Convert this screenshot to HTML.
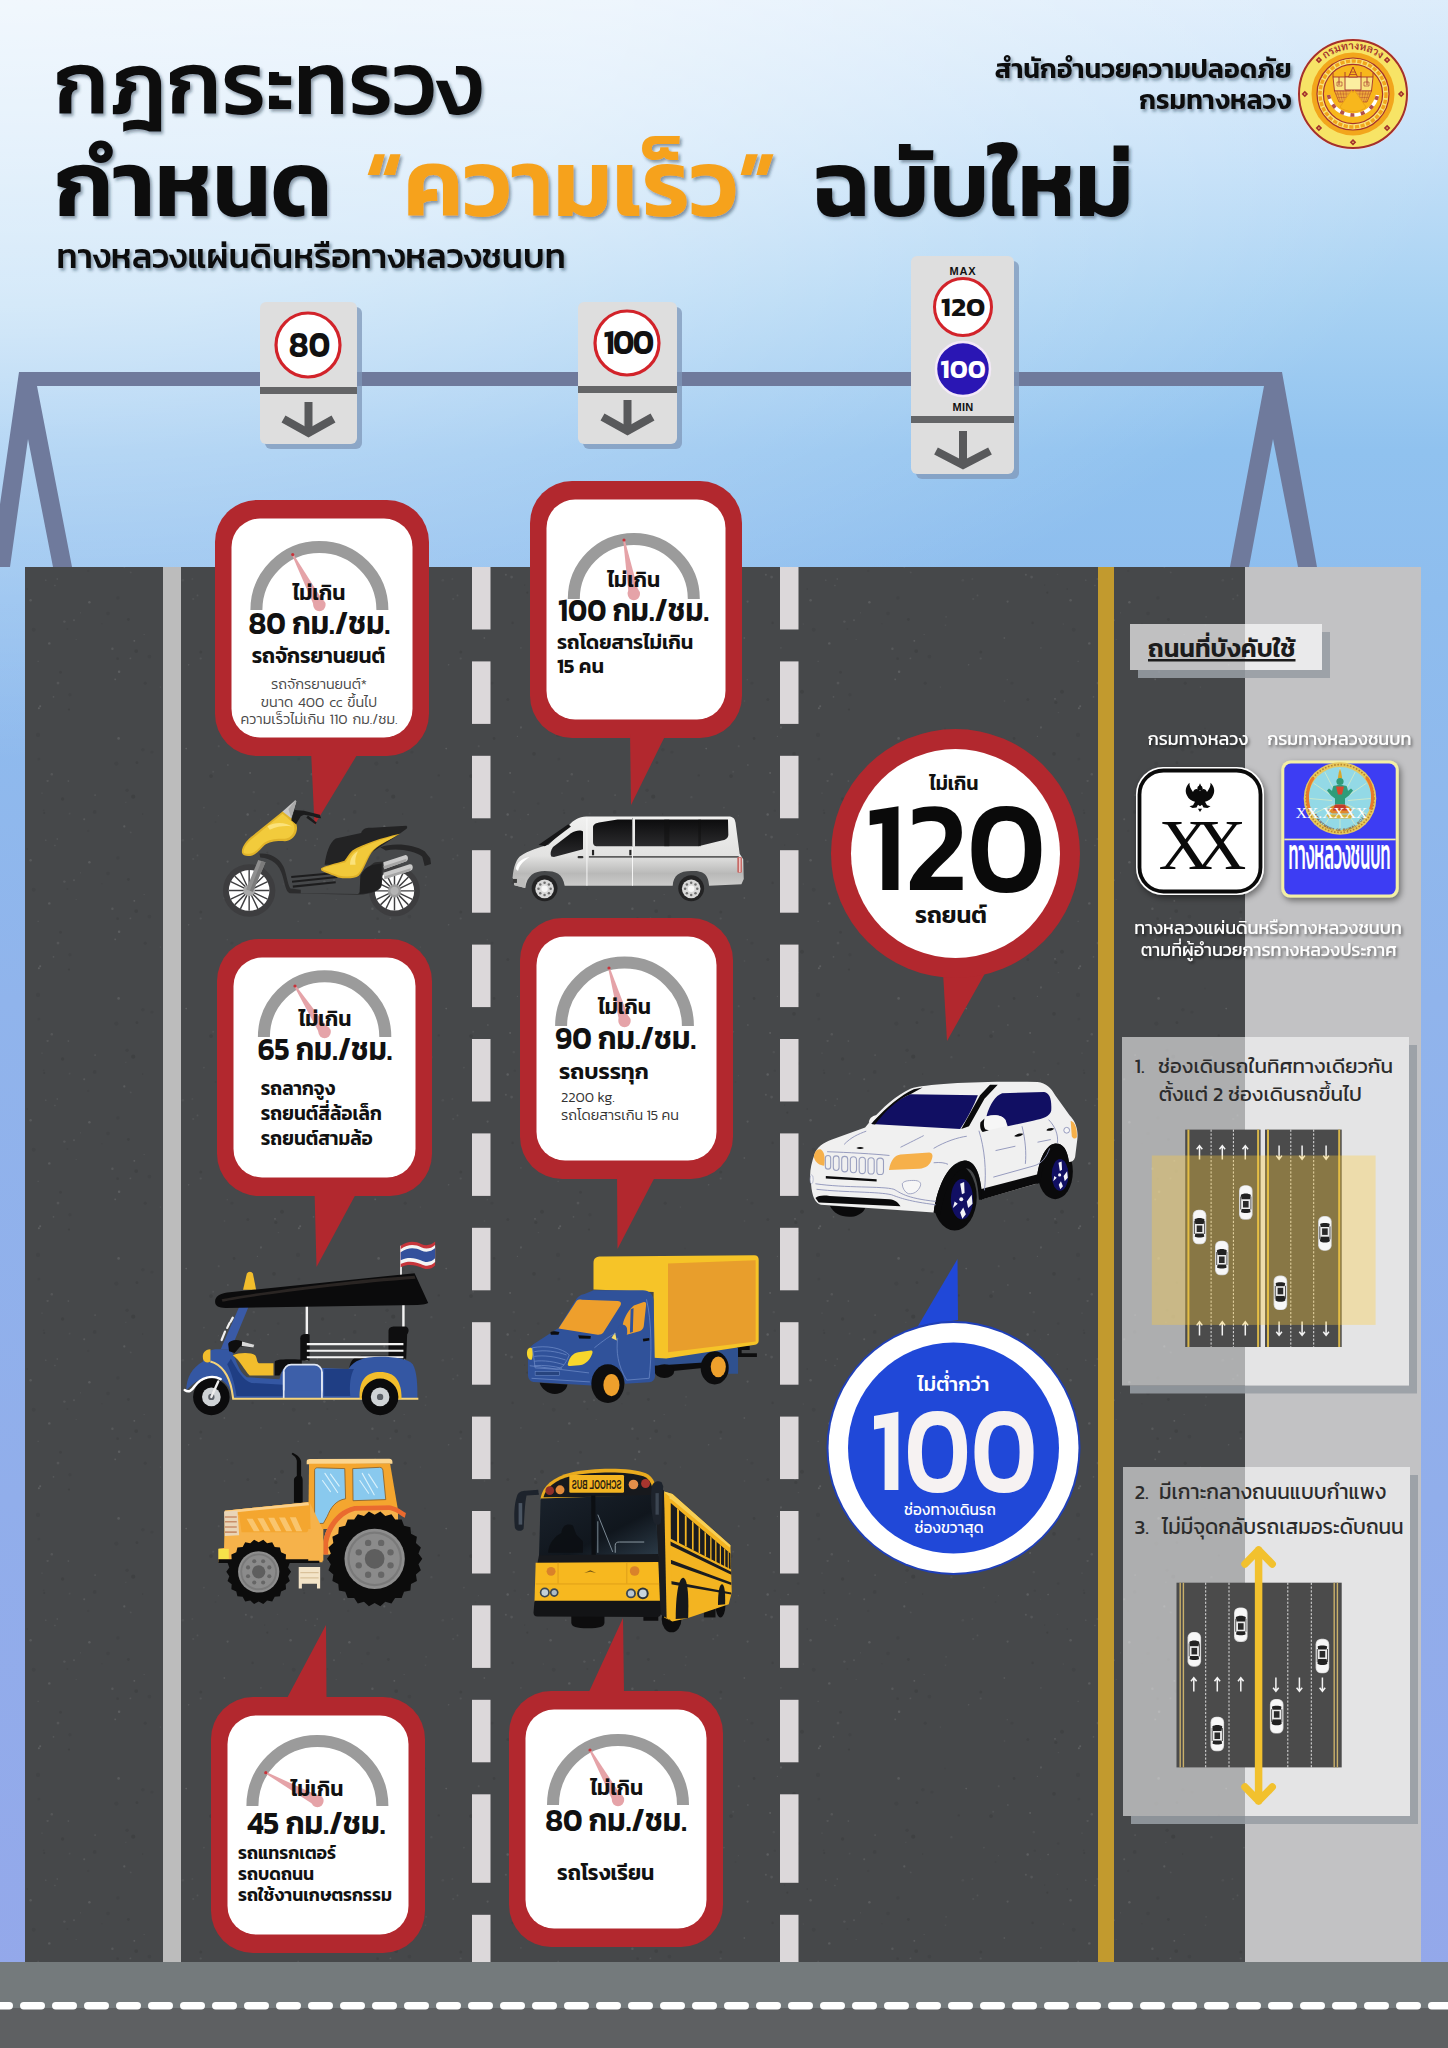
<!DOCTYPE html>
<html lang="th"><head><meta charset="utf-8"><title>กฎกระทรวงกำหนดความเร็วฉบับใหม่</title>
<style>
html,body{margin:0;padding:0;background:#94a7ea}
#page{width:1448px;height:2048px;overflow:hidden;position:relative;font-family:'Kanit','Prompt','Noto Sans Thai','Liberation Sans',sans-serif;
background:
 radial-gradient(ellipse 1500px 760px at 0% 0%, rgba(255,255,255,.60) 0%, rgba(255,255,255,.52) 40%, rgba(255,255,255,.24) 70%, rgba(255,255,255,0) 100%),
 linear-gradient(to bottom,#dcecfb 0px,#c4e0f8 150px,#a8d2f3 300px,#90c2ef 450px,#8ebdee 600px,#90b4ec 1000px,#91aeeb 1500px,#94a7ea 2048px);}
svg#main{position:absolute;left:0;top:0;width:1448px;height:2048px;font-family:'Kanit','Prompt','Noto Sans Thai','Liberation Sans',sans-serif}
</style></head><body>
<div id="page">
<svg id="main" width="1448" height="2048" viewBox="0 0 1448 2048" role="img" aria-label="กฎกระทรวงกำหนดความเร็วฉบับใหม่">
<defs>
<filter id="ts" x="-5%" y="-20%" width="110%" height="150%"><feDropShadow dx="2" dy="2.5" stdDeviation="1.6" flood-color="#1b2a40" flood-opacity=".45"/></filter>
<filter id="ts2" x="-5%" y="-30%" width="110%" height="170%"><feDropShadow dx="1.5" dy="2" stdDeviation="1.5" flood-color="#000" flood-opacity=".55"/></filter>
<filter id="ss" x="-20%" y="-20%" width="150%" height="150%"><feDropShadow dx="2" dy="3" stdDeviation="3" flood-color="#000" flood-opacity=".45"/></filter>
</defs>
<g fill="#6f7a9c">
<rect x="20" y="372" width="1262" height="14"/>
<polygon points="19,372 37,372 37,386 72,567 53,567 28,439 10,567 -9,567"/>
<polygon points="1264,372 1282,372 1317,567 1298,567 1273,439 1249,567 1230,567 1264,386"/>
</g>
<rect x="265" y="307" width="97" height="142" rx="6" fill="#7f97b8" opacity=".75"/><rect x="260" y="302" width="97" height="142" rx="6" fill="#dedede"/><rect x="260" y="387" width="97" height="7" fill="#646567"/>
<path d="M308.5 402 V433" stroke="#58595b" stroke-width="8" fill="none"/><path d="M283.5 419 L308.5 433 L333.5 419" stroke="#58595b" stroke-width="8" fill="none" stroke-linejoin="miter"/>
<circle cx="308" cy="345" r="32" fill="#fff" stroke="#d2232a" stroke-width="3.2"/>
<text transform="translate(309.5 357.4) scale(1 1.1)" font-size="33" font-weight="600" fill="#111" text-anchor="middle" >80</text>
<rect x="583" y="307" width="99" height="142" rx="6" fill="#7f97b8" opacity=".75"/><rect x="578" y="302" width="99" height="142" rx="6" fill="#dedede"/><rect x="578" y="386" width="99" height="7" fill="#646567"/>
<path d="M627.5 400 V431" stroke="#58595b" stroke-width="8" fill="none"/><path d="M602.5 417 L627.5 431 L652.5 417" stroke="#58595b" stroke-width="8" fill="none" stroke-linejoin="miter"/>
<circle cx="627" cy="343" r="32" fill="#fff" stroke="#d2232a" stroke-width="3.2"/>
<text transform="translate(628 354.4) scale(1 1.1)" font-size="32.4" font-weight="600" fill="#111" text-anchor="middle" letter-spacing="-1.7">100</text>
<rect x="916" y="261" width="103" height="218" rx="6" fill="#7f97b8" opacity=".75"/><rect x="911" y="256" width="103" height="218" rx="6" fill="#dedede"/><rect x="911" y="416" width="103" height="7" fill="#646567"/>
<path d="M963 431 V465" stroke="#58595b" stroke-width="8" fill="none"/><path d="M936 451 L963 465 L990 451" stroke="#58595b" stroke-width="8" fill="none" stroke-linejoin="miter"/>
<text x="963" y="275" font-size="11" font-weight="700" fill="#111" text-anchor="middle" font-family="'Liberation Sans',sans-serif" letter-spacing=".8">MAX</text>
<text x="963" y="411" font-size="11" font-weight="700" fill="#111" text-anchor="middle" font-family="'Liberation Sans',sans-serif" letter-spacing=".3">MIN</text>
<circle cx="963" cy="307" r="28.5" fill="#fff" stroke="#d2232a" stroke-width="3"/>
<text transform="translate(963 316) scale(1.1 1)" font-size="26.5" font-weight="600" fill="#111" text-anchor="middle" >120</text>
<circle cx="963" cy="369" r="27" fill="#2a16b4" stroke="#f3e9f7" stroke-width="2.5"/>
<text transform="translate(963 378.3) scale(1.03 1)" font-size="26.5" font-weight="600" fill="#fff" text-anchor="middle" >100</text>
<rect x="25" y="567" width="1396" height="1396" fill="#46484a"/>
<defs><pattern id="speck" width="260" height="260" patternUnits="userSpaceOnUse"><circle cx="84.2" cy="39.2" r="1.0" fill="#fff" opacity="0.09"/><circle cx="95.1" cy="15.1" r="0.9" fill="#fff" opacity="0.08"/><circle cx="18.2" cy="23.6" r="1.3" fill="#000" opacity="0.05"/><circle cx="58.0" cy="163.1" r="1.3" fill="#fff" opacity="0.08"/><circle cx="253.8" cy="12.1" r="1.2" fill="#fff" opacity="0.05"/><circle cx="30.6" cy="80.2" r="1.2" fill="#fff" opacity="0.09"/><circle cx="166.1" cy="96.8" r="0.9" fill="#fff" opacity="0.05"/><circle cx="53.5" cy="176.9" r="0.8" fill="#fff" opacity="0.09"/><circle cx="117.8" cy="77.9" r="1.8" fill="#000" opacity="0.05"/><circle cx="149.4" cy="136.6" r="1.9" fill="#000" opacity="0.06"/><circle cx="254.8" cy="30.7" r="1.3" fill="#000" opacity="0.05"/><circle cx="127.1" cy="10.2" r="1.7" fill="#000" opacity="0.07"/><circle cx="227.6" cy="81.6" r="1.1" fill="#fff" opacity="0.09"/><circle cx="118.6" cy="218.4" r="1.3" fill="#fff" opacity="0.10"/><circle cx="15.8" cy="182.4" r="1.6" fill="#000" opacity="0.09"/><circle cx="74.0" cy="100.3" r="1.0" fill="#fff" opacity="0.08"/><circle cx="43.7" cy="30.4" r="0.9" fill="#000" opacity="0.05"/><circle cx="64.4" cy="101.6" r="1.2" fill="#fff" opacity="0.08"/><circle cx="142.9" cy="229.7" r="1.8" fill="#000" opacity="0.06"/><circle cx="108.0" cy="93.3" r="1.9" fill="#000" opacity="0.05"/><circle cx="45.8" cy="60.3" r="0.7" fill="#fff" opacity="0.09"/><circle cx="68.3" cy="1.1" r="0.8" fill="#fff" opacity="0.09"/><circle cx="247.8" cy="179.5" r="1.5" fill="#000" opacity="0.08"/><circle cx="14.0" cy="233.9" r="1.8" fill="#000" opacity="0.09"/><circle cx="102.0" cy="103.7" r="0.9" fill="#000" opacity="0.04"/><circle cx="17.5" cy="54.3" r="0.6" fill="#fff" opacity="0.04"/><circle cx="0.1" cy="39.3" r="0.6" fill="#fff" opacity="0.04"/><circle cx="227.3" cy="159.7" r="0.6" fill="#fff" opacity="0.07"/><circle cx="94.7" cy="31.9" r="1.9" fill="#000" opacity="0.07"/><circle cx="125.8" cy="22.3" r="0.6" fill="#fff" opacity="0.06"/><circle cx="215.5" cy="42.0" r="0.8" fill="#000" opacity="0.07"/><circle cx="38.1" cy="141.2" r="0.5" fill="#fff" opacity="0.13"/><circle cx="224.5" cy="181.0" r="0.7" fill="#fff" opacity="0.06"/><circle cx="200.7" cy="138.5" r="1.1" fill="#fff" opacity="0.06"/><circle cx="211.0" cy="256.1" r="1.9" fill="#000" opacity="0.09"/><circle cx="192.4" cy="59.0" r="0.9" fill="#fff" opacity="0.04"/><circle cx="7.3" cy="72.6" r="1.1" fill="#000" opacity="0.10"/><circle cx="116.3" cy="243.6" r="2.1" fill="#000" opacity="0.06"/><circle cx="57.3" cy="59.0" r="0.7" fill="#fff" opacity="0.10"/><circle cx="234.1" cy="218.5" r="1.4" fill="#000" opacity="0.09"/><circle cx="22.0" cy="171.8" r="2.0" fill="#000" opacity="0.09"/><circle cx="124.3" cy="46.4" r="1.1" fill="#fff" opacity="0.11"/><circle cx="252.6" cy="102.9" r="1.3" fill="#000" opacity="0.08"/><circle cx="44.2" cy="33.0" r="1.0" fill="#000" opacity="0.09"/><circle cx="38.0" cy="214.9" r="2.1" fill="#000" opacity="0.06"/><circle cx="142.7" cy="34.1" r="0.8" fill="#000" opacity="0.08"/><circle cx="136.9" cy="242.7" r="1.4" fill="#000" opacity="0.09"/><circle cx="54.9" cy="65.5" r="0.7" fill="#fff" opacity="0.09"/><circle cx="67.4" cy="108.9" r="1.0" fill="#000" opacity="0.06"/><circle cx="119.1" cy="151.7" r="1.2" fill="#fff" opacity="0.12"/><circle cx="130.4" cy="138.3" r="0.9" fill="#fff" opacity="0.08"/><circle cx="47.6" cy="1.0" r="1.1" fill="#fff" opacity="0.08"/><circle cx="188.6" cy="144.7" r="0.8" fill="#fff" opacity="0.09"/><circle cx="203.9" cy="27.6" r="0.9" fill="#fff" opacity="0.06"/><circle cx="200.8" cy="132.0" r="1.5" fill="#000" opacity="0.09"/><circle cx="115.2" cy="159.3" r="0.9" fill="#fff" opacity="0.10"/><circle cx="117.6" cy="138.7" r="1.4" fill="#000" opacity="0.08"/><circle cx="227.9" cy="245.0" r="0.7" fill="#fff" opacity="0.12"/><circle cx="218.4" cy="35.7" r="0.6" fill="#fff" opacity="0.05"/><circle cx="62.6" cy="19.0" r="1.7" fill="#000" opacity="0.09"/><circle cx="40.2" cy="186.2" r="1.0" fill="#fff" opacity="0.12"/><circle cx="251.6" cy="57.1" r="1.3" fill="#fff" opacity="0.08"/><circle cx="257.4" cy="216.4" r="0.6" fill="#fff" opacity="0.09"/><circle cx="88.2" cy="50.9" r="1.2" fill="#000" opacity="0.04"/><circle cx="144.1" cy="114.5" r="0.5" fill="#fff" opacity="0.10"/><circle cx="133.2" cy="16.7" r="2.1" fill="#000" opacity="0.10"/><circle cx="27.2" cy="69.0" r="0.9" fill="#000" opacity="0.06"/><circle cx="33.7" cy="109.8" r="2.0" fill="#000" opacity="0.06"/><circle cx="38.8" cy="239.0" r="1.5" fill="#000" opacity="0.05"/><circle cx="15.0" cy="178.9" r="0.8" fill="#fff" opacity="0.12"/><circle cx="165.0" cy="208.4" r="0.9" fill="#000" opacity="0.04"/><circle cx="224.3" cy="118.0" r="0.8" fill="#fff" opacity="0.12"/><circle cx="69.6" cy="33.6" r="0.9" fill="#fff" opacity="0.05"/><circle cx="42.0" cy="13.1" r="0.7" fill="#fff" opacity="0.07"/><circle cx="197.5" cy="75.4" r="0.9" fill="#fff" opacity="0.07"/><circle cx="4.7" cy="65.1" r="0.8" fill="#000" opacity="0.07"/><circle cx="49.3" cy="123.4" r="1.2" fill="#fff" opacity="0.11"/><circle cx="112.4" cy="128.7" r="1.2" fill="#fff" opacity="0.09"/><circle cx="178.8" cy="255.4" r="1.2" fill="#000" opacity="0.08"/><circle cx="165.4" cy="105.2" r="0.8" fill="#fff" opacity="0.05"/><circle cx="18.4" cy="192.6" r="0.7" fill="#fff" opacity="0.05"/><circle cx="218.7" cy="226.3" r="1.0" fill="#fff" opacity="0.06"/><circle cx="76.2" cy="119.5" r="0.6" fill="#fff" opacity="0.06"/><circle cx="250.1" cy="252.9" r="0.9" fill="#fff" opacity="0.13"/><circle cx="80.5" cy="92.7" r="0.5" fill="#fff" opacity="0.08"/><circle cx="130.7" cy="52.3" r="0.9" fill="#fff" opacity="0.06"/><circle cx="23.3" cy="103.9" r="0.5" fill="#fff" opacity="0.07"/><circle cx="60.5" cy="152.3" r="1.5" fill="#000" opacity="0.08"/><circle cx="186.2" cy="228.6" r="0.8" fill="#fff" opacity="0.13"/><circle cx="38.9" cy="188.3" r="1.0" fill="#fff" opacity="0.12"/><circle cx="231.9" cy="163.1" r="1.7" fill="#000" opacity="0.05"/><circle cx="136.2" cy="131.1" r="1.9" fill="#000" opacity="0.09"/><circle cx="151.9" cy="232.1" r="1.7" fill="#000" opacity="0.05"/><circle cx="8.1" cy="34.6" r="0.8" fill="#fff" opacity="0.12"/><circle cx="145.2" cy="163.2" r="1.6" fill="#000" opacity="0.07"/><circle cx="0.9" cy="207.4" r="1.1" fill="#fff" opacity="0.09"/><circle cx="171.4" cy="17.2" r="1.1" fill="#fff" opacity="0.05"/><circle cx="69.0" cy="189.6" r="1.1" fill="#000" opacity="0.10"/><circle cx="128.4" cy="99.5" r="1.4" fill="#000" opacity="0.09"/><circle cx="160.4" cy="167.1" r="0.6" fill="#fff" opacity="0.06"/><circle cx="193.2" cy="79.1" r="1.0" fill="#fff" opacity="0.05"/><circle cx="69.9" cy="174.7" r="1.7" fill="#000" opacity="0.06"/><circle cx="134.3" cy="120.8" r="0.9" fill="#fff" opacity="0.12"/><circle cx="51.8" cy="254.3" r="1.2" fill="#fff" opacity="0.08"/><circle cx="213.2" cy="251.7" r="0.9" fill="#fff" opacity="0.06"/><circle cx="245.9" cy="54.8" r="1.0" fill="#fff" opacity="0.09"/><circle cx="247.7" cy="34.5" r="1.2" fill="#fff" opacity="0.12"/><circle cx="182.9" cy="60.2" r="1.2" fill="#fff" opacity="0.04"/><circle cx="0.9" cy="127.8" r="0.9" fill="#fff" opacity="0.05"/><circle cx="89.4" cy="82.2" r="1.2" fill="#fff" opacity="0.11"/></pattern></defs>
<rect x="25" y="567" width="1220" height="1396" fill="url(#speck)"/>
<rect x="1245" y="567" width="176" height="1396" fill="#c2c2c4"/>
<rect x="163" y="567" width="18" height="1396" fill="#bcbcbc"/>
<rect x="1098" y="567" width="16" height="1396" fill="#c29a2e"/>
<rect x="472" y="567.0" width="18.5" height="62.5" fill="#dcd8da"/>
<rect x="472" y="661.4" width="18.5" height="62.5" fill="#dcd8da"/>
<rect x="472" y="755.8" width="18.5" height="62.5" fill="#dcd8da"/>
<rect x="472" y="850.2" width="18.5" height="62.5" fill="#dcd8da"/>
<rect x="472" y="944.6" width="18.5" height="62.5" fill="#dcd8da"/>
<rect x="472" y="1039.0" width="18.5" height="62.5" fill="#dcd8da"/>
<rect x="472" y="1133.4" width="18.5" height="62.5" fill="#dcd8da"/>
<rect x="472" y="1227.8" width="18.5" height="62.5" fill="#dcd8da"/>
<rect x="472" y="1322.2" width="18.5" height="62.5" fill="#dcd8da"/>
<rect x="472" y="1416.6" width="18.5" height="62.5" fill="#dcd8da"/>
<rect x="472" y="1511.0" width="18.5" height="62.5" fill="#dcd8da"/>
<rect x="472" y="1605.4" width="18.5" height="62.5" fill="#dcd8da"/>
<rect x="472" y="1699.8" width="18.5" height="62.5" fill="#dcd8da"/>
<rect x="472" y="1794.3" width="18.5" height="88.5" fill="#dcd8da"/>
<rect x="472" y="1914.8" width="18.5" height="48" fill="#dcd8da"/>
<rect x="780" y="567.0" width="18.5" height="62.5" fill="#dcd8da"/>
<rect x="780" y="661.4" width="18.5" height="62.5" fill="#dcd8da"/>
<rect x="780" y="755.8" width="18.5" height="62.5" fill="#dcd8da"/>
<rect x="780" y="850.2" width="18.5" height="62.5" fill="#dcd8da"/>
<rect x="780" y="944.6" width="18.5" height="62.5" fill="#dcd8da"/>
<rect x="780" y="1039.0" width="18.5" height="62.5" fill="#dcd8da"/>
<rect x="780" y="1133.4" width="18.5" height="62.5" fill="#dcd8da"/>
<rect x="780" y="1227.8" width="18.5" height="62.5" fill="#dcd8da"/>
<rect x="780" y="1322.2" width="18.5" height="62.5" fill="#dcd8da"/>
<rect x="780" y="1416.6" width="18.5" height="62.5" fill="#dcd8da"/>
<rect x="780" y="1511.0" width="18.5" height="62.5" fill="#dcd8da"/>
<rect x="780" y="1605.4" width="18.5" height="62.5" fill="#dcd8da"/>
<rect x="780" y="1699.8" width="18.5" height="62.5" fill="#dcd8da"/>
<rect x="780" y="1794.3" width="18.5" height="88.5" fill="#dcd8da"/>
<rect x="780" y="1914.8" width="18.5" height="48" fill="#dcd8da"/>
<rect x="0" y="1962" width="1448" height="46" fill="#747a7c"/>
<rect x="0" y="2008" width="1448" height="40" fill="#5e6062"/>
<rect x="-12" y="2002" width="25" height="7.5" rx="3.7" fill="#fff"/>
<rect x="20" y="2002" width="25" height="7.5" rx="3.7" fill="#fff"/>
<rect x="52" y="2002" width="25" height="7.5" rx="3.7" fill="#fff"/>
<rect x="84" y="2002" width="25" height="7.5" rx="3.7" fill="#fff"/>
<rect x="116" y="2002" width="25" height="7.5" rx="3.7" fill="#fff"/>
<rect x="148" y="2002" width="25" height="7.5" rx="3.7" fill="#fff"/>
<rect x="180" y="2002" width="25" height="7.5" rx="3.7" fill="#fff"/>
<rect x="212" y="2002" width="25" height="7.5" rx="3.7" fill="#fff"/>
<rect x="244" y="2002" width="25" height="7.5" rx="3.7" fill="#fff"/>
<rect x="276" y="2002" width="25" height="7.5" rx="3.7" fill="#fff"/>
<rect x="308" y="2002" width="25" height="7.5" rx="3.7" fill="#fff"/>
<rect x="340" y="2002" width="25" height="7.5" rx="3.7" fill="#fff"/>
<rect x="372" y="2002" width="25" height="7.5" rx="3.7" fill="#fff"/>
<rect x="404" y="2002" width="25" height="7.5" rx="3.7" fill="#fff"/>
<rect x="436" y="2002" width="25" height="7.5" rx="3.7" fill="#fff"/>
<rect x="468" y="2002" width="25" height="7.5" rx="3.7" fill="#fff"/>
<rect x="500" y="2002" width="25" height="7.5" rx="3.7" fill="#fff"/>
<rect x="532" y="2002" width="25" height="7.5" rx="3.7" fill="#fff"/>
<rect x="564" y="2002" width="25" height="7.5" rx="3.7" fill="#fff"/>
<rect x="596" y="2002" width="25" height="7.5" rx="3.7" fill="#fff"/>
<rect x="628" y="2002" width="25" height="7.5" rx="3.7" fill="#fff"/>
<rect x="660" y="2002" width="25" height="7.5" rx="3.7" fill="#fff"/>
<rect x="692" y="2002" width="25" height="7.5" rx="3.7" fill="#fff"/>
<rect x="724" y="2002" width="25" height="7.5" rx="3.7" fill="#fff"/>
<rect x="756" y="2002" width="25" height="7.5" rx="3.7" fill="#fff"/>
<rect x="788" y="2002" width="25" height="7.5" rx="3.7" fill="#fff"/>
<rect x="820" y="2002" width="25" height="7.5" rx="3.7" fill="#fff"/>
<rect x="852" y="2002" width="25" height="7.5" rx="3.7" fill="#fff"/>
<rect x="884" y="2002" width="25" height="7.5" rx="3.7" fill="#fff"/>
<rect x="916" y="2002" width="25" height="7.5" rx="3.7" fill="#fff"/>
<rect x="948" y="2002" width="25" height="7.5" rx="3.7" fill="#fff"/>
<rect x="980" y="2002" width="25" height="7.5" rx="3.7" fill="#fff"/>
<rect x="1012" y="2002" width="25" height="7.5" rx="3.7" fill="#fff"/>
<rect x="1044" y="2002" width="25" height="7.5" rx="3.7" fill="#fff"/>
<rect x="1076" y="2002" width="25" height="7.5" rx="3.7" fill="#fff"/>
<rect x="1108" y="2002" width="25" height="7.5" rx="3.7" fill="#fff"/>
<rect x="1140" y="2002" width="25" height="7.5" rx="3.7" fill="#fff"/>
<rect x="1172" y="2002" width="25" height="7.5" rx="3.7" fill="#fff"/>
<rect x="1204" y="2002" width="25" height="7.5" rx="3.7" fill="#fff"/>
<rect x="1236" y="2002" width="25" height="7.5" rx="3.7" fill="#fff"/>
<rect x="1268" y="2002" width="25" height="7.5" rx="3.7" fill="#fff"/>
<rect x="1300" y="2002" width="25" height="7.5" rx="3.7" fill="#fff"/>
<rect x="1332" y="2002" width="25" height="7.5" rx="3.7" fill="#fff"/>
<rect x="1364" y="2002" width="25" height="7.5" rx="3.7" fill="#fff"/>
<rect x="1396" y="2002" width="25" height="7.5" rx="3.7" fill="#fff"/>
<rect x="1428" y="2002" width="25" height="7.5" rx="3.7" fill="#fff"/>
<rect x="215" y="500" width="214" height="256" rx="42" ry="42" fill="#b2282e"/><polygon points="311,750 360,750 314.5,825" fill="#b2282e"/><rect x="231.5" y="518.5" width="181.0" height="219.0" rx="28.5" ry="28.5" fill="#fff"/>
<rect x="530" y="481" width="212" height="257" rx="42" ry="42" fill="#b2282e"/><polygon points="630,732 667,732 631,805" fill="#b2282e"/><rect x="546.5" y="499.5" width="179.0" height="220.0" rx="28.5" ry="28.5" fill="#fff"/>
<rect x="217" y="939" width="215" height="257" rx="42" ry="42" fill="#b2282e"/><polygon points="314.5,1190 358,1190 316.5,1267" fill="#b2282e"/><rect x="233.5" y="957.5" width="182.0" height="220.0" rx="28.5" ry="28.5" fill="#fff"/>
<rect x="520" y="918" width="213" height="261" rx="42" ry="42" fill="#b2282e"/><polygon points="617,1172 657.5,1172 617.5,1249" fill="#b2282e"/><rect x="536.5" y="936.5" width="180.0" height="224.0" rx="28.5" ry="28.5" fill="#fff"/>
<rect x="211" y="1697" width="214" height="256" rx="42" ry="42" fill="#b2282e"/><polygon points="286,1700 326.5,1700 326,1625" fill="#b2282e"/><rect x="227.5" y="1715.5" width="181.0" height="219.0" rx="28.5" ry="28.5" fill="#fff"/>
<rect x="509" y="1691" width="214" height="256" rx="42" ry="42" fill="#b2282e"/><polygon points="588,1694 624,1694 623,1618" fill="#b2282e"/><rect x="525.5" y="1709.5" width="181.0" height="219.0" rx="28.5" ry="28.5" fill="#fff"/>
<path d="M256.4 610 A63.0 63.0 0 0 1 382.4 610" fill="none" stroke="#9b9b9b" stroke-width="12"/><path d="M324.0 602.6 L293.4 554.2 L292.0 555.0 L314.8 607.4 Z" fill="#e5a3a8"/><circle cx="319.4" cy="605" r="6.2" fill="#e5a3a8"/><circle cx="292.7" cy="554.6" r="1.6" fill="#c8323a"/>
<path d="M573.8 599 A60.0 60.0 0 0 1 693.8 599" fill="none" stroke="#9b9b9b" stroke-width="12"/><path d="M638.9 593.1 L624.8 539.9 L623.2 540.1 L628.7 594.9 Z" fill="#e5a3a8"/><circle cx="633.8" cy="594" r="6.2" fill="#e5a3a8"/><circle cx="624.0" cy="540.0" r="1.6" fill="#c8323a"/>
<path d="M263.90000000000003 1037 A60.7 60.7 0 0 1 385.3 1037" fill="none" stroke="#9b9b9b" stroke-width="12"/><path d="M329.0 1029.2 L295.7 985.6 L294.3 986.4 L320.2 1034.8 Z" fill="#e5a3a8"/><circle cx="324.6" cy="1032" r="6.2" fill="#e5a3a8"/><circle cx="295.0" cy="986.0" r="1.6" fill="#c8323a"/>
<path d="M561.1 1026 A63.400000000000006 63.400000000000006 0 0 1 687.9 1026" fill="none" stroke="#9b9b9b" stroke-width="12"/><path d="M629.5 1019.5 L609.8 967.8 L608.2 968.2 L619.5 1022.5 Z" fill="#e5a3a8"/><circle cx="624.5" cy="1021" r="6.2" fill="#e5a3a8"/><circle cx="609.0" cy="968.0" r="1.6" fill="#c8323a"/>
<path d="M252.39999999999998 1806 A65.0 65.0 0 0 1 382.4 1806" fill="none" stroke="#9b9b9b" stroke-width="12"/><path d="M319.9 1796.4 L266.2 1772.0 L265.4 1773.4 L314.9 1805.6 Z" fill="#e5a3a8"/><circle cx="317.4" cy="1801" r="6.2" fill="#e5a3a8"/><circle cx="265.8" cy="1772.7" r="1.6" fill="#c8323a"/>
<path d="M553.0 1805 A65.0 65.0 0 0 1 683.0 1805" fill="none" stroke="#9b9b9b" stroke-width="12"/><path d="M622.5 1797.5 L590.7 1749.6 L589.3 1750.4 L613.5 1802.5 Z" fill="#e5a3a8"/><circle cx="618" cy="1800" r="6.2" fill="#e5a3a8"/><circle cx="590.0" cy="1750.0" r="1.6" fill="#c8323a"/>
<polygon points="943,972 988,968 947,1041" fill="#b2282e"/>
<circle cx="955.5" cy="853.5" r="124.5" fill="#b2282e"/>
<circle cx="955.5" cy="853.5" r="104.5" fill="#fff"/>
<polygon points="918,1326 958,1320 957.5,1259" fill="#2048d8"/>
<circle cx="953.5" cy="1448" r="127" fill="#1f3fb8"/>
<circle cx="953.5" cy="1448" r="125" fill="#fff"/>
<circle cx="953.5" cy="1448" r="105.5" fill="#2048d8"/>
<path d="M1322 632 H1330 V678 H1138 V670 H1322 Z" fill="#979da4" opacity=".88"/><rect x="1130" y="624" width="192" height="46" fill="#fff" opacity="0.66"/>
<path d="M1409 1045 H1417 V1393.5 H1130 V1385.5 H1409 Z" fill="#979da4" opacity=".88"/><rect x="1122" y="1037" width="287" height="348.5" fill="#fff" opacity="0.56"/>
<path d="M1410 1475 H1418 V1824 H1131 V1816 H1410 Z" fill="#979da4" opacity=".88"/><rect x="1123" y="1467" width="287" height="349" fill="#fff" opacity="0.56"/>
<svg x="215" y="790" width="230" height="130" viewBox="0 0 1448 818" overflow="visible">
<!-- tyres -->
<circle cx="215" cy="632" r="165" fill="#3d3d3f"/>
<circle cx="1130" cy="635" r="160" fill="#3d3d3f"/>
<!-- wheels -->
<g fill="#fff">
<circle cx="215" cy="632" r="128"/>
<circle cx="1130" cy="635" r="124"/>
</g>
<g stroke="#3f3f41" stroke-width="9" fill="none">
<path d="M215 504V760M87 632H343M124 541L306 723M306 541L124 723M160 516L270 748M270 516L160 748M99 577L331 687M99 687L331 577"/>
<path d="M1130 511V759M1006 635H1254M1042 547L1218 723M1218 547L1042 723M1076 523L1184 747M1184 523L1076 747M1018 581L1242 689M1018 689L1242 581"/>
</g>
<circle cx="215" cy="632" r="36" fill="#a9a9a9"/>
<circle cx="1130" cy="635" r="42" fill="#9c9c9c"/>
<circle cx="1130" cy="635" r="26" fill="#b4b4b4"/>
<!-- fork -->
<path d="M272 440 L318 455 L238 640 L196 626 Z" fill="#8f8f8f"/>
<path d="M292 448 L318 455 L238 640 L220 634 Z" fill="#7b7b7b"/>
<!-- dark body -->
<path d="M280 400 C340 395 400 420 430 480 C450 520 455 590 475 620 L540 628 L540 650 L900 655 L915 640 C930 560 960 470 1010 455 L1060 450 L1050 600 C1040 640 980 655 905 660 L470 650 C445 640 440 590 425 540 C405 470 360 430 285 425 Z" fill="#2c2c2d"/>
<path d="M690 470 C700 400 720 330 760 305 L920 270 C930 240 960 235 990 238 L1205 225 C1215 232 1210 245 1195 252 L1150 285 L870 470 Z" fill="#232324"/>
<!-- rear fender -->
<path d="M1040 360 C1120 330 1250 340 1320 385 L1355 430 L1360 465 L1320 478 L1305 420 C1260 385 1160 365 1075 380 Z" fill="#262627"/>
<!-- floor lines -->
<g stroke="#1d1d1e" stroke-width="13" fill="none"><path d="M480 548 L760 522M485 578 L770 548M490 608 L760 580"/></g>
<!-- exhaust -->
<g fill="#c9c9c9">
<path d="M1060 455 L1195 410 C1215 405 1222 440 1205 448 L1065 498 Z"/>
<path d="M1060 520 L1225 468 C1248 462 1252 500 1232 508 L1068 562 Z"/>
</g>
<path d="M1060 480 L1205 432 L1205 448 L1065 498 Z" fill="#a5a5a5"/>
<path d="M1065 545 L1232 492 L1232 508 L1068 562 Z" fill="#a5a5a5"/>
<!-- yellow front fairing -->
<path d="M170 395 C165 370 185 335 215 305 L425 135 C440 125 470 160 480 178 C510 200 525 225 512 265 C500 300 470 320 440 322 C390 318 340 325 315 345 C290 365 270 400 235 412 C205 420 175 415 170 395 Z" fill="#e0b32a"/>
<path d="M180 392 C178 372 195 342 222 316 L425 150 C445 165 465 185 478 195 C498 212 505 235 498 258 C488 288 465 305 440 307 C392 303 340 310 310 332 C285 352 265 388 232 398 C208 405 184 402 180 392 Z" fill="#f2cb3c"/>
<path d="M330 228 C380 200 440 200 490 232 C470 222 400 222 345 250 Z" fill="#fbe27a"/>
<!-- windscreen -->
<path d="M425 135 L505 65 L512 72 L480 178 Z" fill="#c8c8c8"/>
<path d="M462 120 L505 65 L512 72 L480 178 Z" fill="#a9a9a9"/>
<!-- handlebar -->
<path d="M500 125 L560 130 L660 155 L668 178 L640 175 L615 165 L560 155 L540 165 L510 215 L480 190 Z" fill="#1b1b1c"/>
<path d="M585 160 L640 205 L632 215 L575 175 Z" fill="#1b1b1c"/>
<!-- yellow side panel -->
<path d="M668 492 C700 475 760 462 815 445 C830 425 840 405 865 380 C930 340 1050 300 1165 275 C1110 310 1020 345 985 395 C955 440 940 500 905 540 C880 558 820 560 775 550 C740 535 690 520 668 505 Z" fill="#dfb128"/>
<path d="M680 492 C710 480 765 470 822 455 C838 432 850 412 872 392 C930 352 1040 312 1140 288 C1090 318 1010 350 975 398 C945 442 930 498 897 530 C875 545 822 548 778 538 C745 525 700 510 680 500 Z" fill="#f1c93a"/>
<path d="M850 470 C850 430 870 400 900 385 C885 415 880 440 885 470 Z" fill="#fbe27a"/>
<path d="M915 540 C930 510 950 480 1000 470 L1050 462 L1045 600 C1035 635 985 650 910 655 Z" fill="#1f1f20"/>
</svg>
<svg x="500" y="800" width="260" height="110" viewBox="0 0 1448 613" overflow="visible">
<defs>
<linearGradient id="vanb" x1="0" y1="0" x2="0" y2="1"><stop offset="0" stop-color="#f1f1f0"/><stop offset=".55" stop-color="#e2e2e1"/><stop offset=".8" stop-color="#b9b9b8"/><stop offset="1" stop-color="#cfcfce"/></linearGradient>
<linearGradient id="vang" x1="0" y1="0" x2="0" y2="1"><stop offset="0" stop-color="#0c0c0d"/><stop offset="1" stop-color="#2b2b2d"/></linearGradient>
</defs>
<!-- body -->
<path d="M70 430 C75 380 85 340 110 315 C160 280 220 265 270 250 L385 140 C410 110 440 95 480 92 L1280 92 C1300 95 1308 105 1312 125 L1335 300 L1355 330 L1358 440 L1345 470 L1165 478 C1160 400 1120 395 1065 395 C1000 395 965 420 962 478 L360 478 C350 410 310 395 250 395 C190 395 150 420 140 490 L80 475 Z" fill="url(#vanb)"/>
<!-- windshield -->
<path d="M215 250 L380 135 L395 148 L250 258 Z" fill="#161617"/>
<!-- front door window -->
<path d="M285 315 C278 300 282 280 295 262 L395 185 C420 168 450 165 462 175 L462 275 L300 318 Z" fill="url(#vang)"/>
<!-- side windows -->
<path d="M518 150 C520 135 535 128 560 124 L655 108 L735 108 L735 258 L535 258 C522 255 518 245 518 235 Z" fill="url(#vang)"/>
<path d="M752 108 L1270 108 L1272 195 C1270 215 1255 222 1235 226 L1105 258 L752 258 Z" fill="url(#vang)"/>
<path d="M915 108 h28 v150 h-28zM1105 108 h14 v150 h-14z" fill="#111" opacity=".55"/>
<!-- lines -->
<path d="M495 312 H1330 v10 H495z" fill="#5e5e5e"/>
<path d="M484 100 v378 M738 258 v220" stroke="#fafafa" stroke-width="5" fill="none"/>
<path d="M738 100 v160" stroke="#888" stroke-width="4"/>
<rect x="512" y="278" width="12" height="30" fill="#222"/><rect x="720" y="278" width="12" height="30" fill="#222"/>
<rect x="432" y="312" width="32" height="12" rx="5" fill="#333"/>
<!-- tail light -->
<rect x="1322" y="318" width="26" height="88" rx="6" fill="#c76a66"/>
<rect x="1332" y="322" width="8" height="80" fill="#f1d0cc"/>
<!-- headlight -->
<path d="M88 385 C90 350 120 325 165 318 C130 340 110 360 100 395 Z" fill="#fff"/>
<!-- bumper shade -->
<path d="M70 430 L140 438 L140 490 L80 475 Z" fill="#bdbdbc"/>
<rect x="72" y="440" width="22" height="22" fill="#3a3a3a"/>
<!-- wheels -->
<circle cx="248" cy="492" r="72" fill="#232324"/>
<circle cx="1065" cy="492" r="72" fill="#232324"/>
<circle cx="248" cy="495" r="52" fill="#d9d9d9"/>
<circle cx="1065" cy="495" r="52" fill="#d9d9d9"/>
<circle cx="248" cy="495" r="18" fill="#f6f6f6"/>
<circle cx="1065" cy="495" r="18" fill="#f6f6f6"/>
<g fill="#6e6e6e">
<circle cx="248" cy="461" r="7"/><circle cx="248" cy="529" r="7"/><circle cx="214" cy="495" r="7"/><circle cx="282" cy="495" r="7"/><circle cx="224" cy="471" r="7"/><circle cx="272" cy="471" r="7"/><circle cx="224" cy="519" r="7"/><circle cx="272" cy="519" r="7"/>
<circle cx="1065" cy="461" r="7"/><circle cx="1065" cy="529" r="7"/><circle cx="1031" cy="495" r="7"/><circle cx="1099" cy="495" r="7"/><circle cx="1041" cy="471" r="7"/><circle cx="1089" cy="471" r="7"/><circle cx="1041" cy="519" r="7"/><circle cx="1089" cy="519" r="7"/>
</g>
</svg>
<svg x="175" y="1230" width="270" height="190" viewBox="0 0 1448 1019" overflow="visible">
<!-- flag -->
<path d="M1212 85 V250" stroke="#e9e9e9" stroke-width="10"/>
<path d="M1210 85 C1250 55 1290 60 1320 75 C1350 88 1375 80 1395 62 L1395 190 C1375 212 1345 215 1318 200 C1290 188 1250 180 1210 200 Z" fill="#c7353b"/>
<path d="M1210 103 C1250 73 1290 78 1320 93 C1350 106 1375 98 1395 80 L1395 172 C1375 194 1345 197 1318 182 C1290 170 1250 162 1210 182 Z" fill="#f4f4f4"/>
<path d="M1210 120 C1250 90 1290 95 1320 110 C1350 123 1375 115 1395 97 L1395 152 C1375 174 1345 177 1318 162 C1290 150 1250 142 1210 162 Z" fill="#33509c"/>
<!-- front yellow fin -->
<path d="M365 320 L385 235 C392 220 412 220 418 235 L435 320 Z" fill="#f2bd2c"/>
<!-- windshield strut -->
<path d="M345 410 L395 410 L300 640 L245 640 Z" fill="#3a5aa6"/>
<g stroke="#f0f0f0" stroke-width="12" stroke-linecap="round"><path d="M310 470 L298 492M292 500 L280 525M268 545 L250 590"/></g>
<!-- poles -->
<path d="M707 400 V700 M1225 395 V740" stroke="#f2f2f2" stroke-width="13"/>
<!-- seats/back black -->
<path d="M672 580 C672 560 690 555 722 560 L722 700 L672 700 Z" fill="#0e0e0f"/>
<path d="M1145 545 C1145 522 1160 518 1180 518 L1235 518 C1255 520 1258 545 1245 560 L1240 690 L1145 690 Z" fill="#0e0e0f"/>
<path d="M935 740 C940 700 960 680 1000 675 L1230 675 L1230 740 Z" fill="#0e0e0f"/>
<!-- rails -->
<g stroke="#f2f2f2" stroke-width="11"><path d="M707 612 H1225M707 648 H1225M707 682 H1225"/></g>
<!-- roof -->
<path d="M215 385 C215 355 240 342 280 335 L1285 232 L1358 392 C1340 400 1320 402 1300 402 L270 418 C235 418 215 408 215 385 Z" fill="#0b0b0c"/>
<path d="M250 372 C380 345 900 268 1285 245 L1290 262 C900 290 400 355 255 385 Z" fill="#2a2523"/>
<!-- body blue -->
<path d="M60 860 C62 790 90 740 150 705 C165 660 180 645 215 640 L300 640 C330 700 340 760 385 790 L560 800 L580 740 L800 740 L930 745 C960 700 1010 680 1100 680 C1180 680 1250 690 1275 720 C1300 760 1300 850 1300 880 L1300 905 L310 905 C300 840 260 790 190 790 C130 790 90 830 60 860 Z" fill="#3457a3"/>
<!-- darker interior panel -->
<path d="M300 690 C340 760 360 800 410 820 L580 830 L580 890 L330 890 C320 820 300 760 280 720 Z" fill="#1f3e84"/>
<path d="M800 745 L960 745 C940 780 935 830 940 890 L800 890 Z" fill="#1f3e84"/>
<!-- yellow seat -->
<path d="M310 672 C345 655 410 655 430 672 C442 690 438 710 450 715 L528 715 L528 780 L400 780 C370 750 350 700 310 672 Z" fill="#f2bd2c"/>
<path d="M535 705 C545 695 580 690 680 695 L680 740 L580 745 L560 780 L535 780 Z" fill="#0e0e0f"/>
<!-- handlebar -->
<path d="M285 610 C295 590 330 585 355 595 L420 615 L418 630 L350 625 L320 660 L290 650 Z" fill="#0e0e0f"/>
<path d="M360 598 L425 615 L420 630 L358 622 Z" fill="#d8d8d8"/>
<!-- door panel -->
<rect x="583" y="722" width="205" height="175" rx="40" fill="#3d5fa9" stroke="#dfe6f3" stroke-width="9"/>
<rect x="583" y="860" width="205" height="45" fill="#3d5fa9"/>
<path d="M583 905 V760 M788 905 V760" stroke="#dfe6f3" stroke-width="9"/>
<!-- headlight yellow -->
<path d="M150 690 C145 660 160 642 190 640 L190 705 C175 715 155 710 150 690 Z" fill="#f2bd2c"/>
<!-- yellow trim lines -->
<path d="M190 705 C250 720 290 780 305 860 L312 905 L1305 905" stroke="#f5d37a" stroke-width="11" fill="none"/>
<path d="M990 905 C985 800 1030 762 1100 762 C1180 762 1215 810 1215 905 Z" fill="#f2bd2c"/>
<!-- white front fender line -->
<path d="M52 858 C75 875 90 860 105 838 C140 790 200 775 245 800" stroke="#fff" stroke-width="13" fill="none" stroke-linecap="round"/>
<!-- wheels -->
<circle cx="195" cy="895" r="98" fill="#0b0b0c"/>
<circle cx="1100" cy="895" r="98" fill="#0b0b0c"/>
<circle cx="195" cy="895" r="50" fill="#cfd3d6"/>
<circle cx="1100" cy="895" r="50" fill="#cfd3d6"/>
<circle cx="195" cy="895" r="17" fill="#5c6168"/>
<circle cx="1100" cy="895" r="17" fill="#5c6168"/>
<path d="M232 812 L195 895" stroke="#eee" stroke-width="13" stroke-linecap="round"/>
</svg>
<svg x="510" y="1240" width="260" height="180" viewBox="0 0 1448 1002" overflow="visible">
<!-- rear bits -->
<path d="M1265 590 h70 v22 h-45 v18 h85 v22 h-110 z" fill="#0d0d0e"/>
<!-- chassis -->
<path d="M800 650 L1270 600 L1270 745 L1215 745 L1215 690 L800 720 Z" fill="#2f518f"/>
<path d="M800 700 L1100 680 L1100 710 L800 740 Z" fill="#0d0d0e"/>
<!-- rear wheel -->
<ellipse cx="1140" cy="712" rx="78" ry="92" fill="#0d0d0e"/>
<ellipse cx="1160" cy="706" rx="42" ry="58" fill="#eea02c"/>
<ellipse cx="860" cy="730" rx="55" ry="38" fill="#0d0d0e"/>
<!-- box -->
<path d="M465 130 C465 100 480 92 510 92 L1360 85 C1378 85 1385 95 1385 110 L1385 560 C1385 575 1378 580 1365 583 L870 660 L800 655 L800 290 L465 275 Z" fill="#f6c428"/>
<path d="M880 130 L1368 112 L1368 565 L880 625 Z" fill="#e89e2c"/>
<!-- cab -->
<path d="M100 650 C100 620 110 595 130 580 L270 490 L365 335 C375 315 390 305 415 300 L465 280 L740 280 C775 282 795 300 800 335 L808 760 C806 780 795 790 775 792 L640 800 C630 740 600 705 560 705 C510 705 470 745 455 810 L130 790 C112 788 102 775 100 755 Z" fill="#30529a"/>
<!-- windshield -->
<path d="M270 492 L370 340 C378 332 388 330 400 332 L600 340 C618 342 622 352 615 365 L520 515 C512 525 500 528 488 527 Z" fill="#ee9f2c"/>
<!-- side window -->
<path d="M628 470 C640 420 665 385 690 365 L745 345 C755 343 760 350 758 362 L745 480 C742 495 735 502 720 508 L650 528 L650 490 Z" fill="#ee9f2c"/>
<path d="M672 385 L688 378 L684 512 L668 516 Z" fill="#30529a"/>
<!-- mirror -->
<path d="M600 495 C600 478 612 470 630 472 C648 475 655 490 652 520 L640 540 L605 540 Z" fill="#30529a"/>
<path d="M565 545 L585 515 L595 560 Z" fill="#f5dc6a"/>
<!-- wipers -->
<path d="M225 518 C225 510 235 506 250 508 L275 512 L270 528 L228 528 Z" fill="#0d0d0e"/>
<path d="M380 530 L450 535 L448 550 L385 548 Z" fill="#0d0d0e"/>
<path d="M740 550 L775 545 L776 560 L742 565 Z" fill="#0d0d0e"/>
<!-- headlights -->
<path d="M95 640 C92 612 102 598 118 600 C128 605 130 635 122 665 C112 672 98 662 95 640 Z" fill="#f7d62c"/>
<path d="M322 690 C330 655 350 630 380 625 L450 615 C462 615 462 625 455 640 C440 675 415 695 385 698 L335 702 C325 702 320 698 322 690 Z" fill="#f7d62c"/>
<!-- grille lines -->
<g stroke="#6f8cc8" stroke-width="4" fill="none">
<path d="M135 622 C190 610 260 620 315 640 M135 648 C190 640 255 650 310 668 M135 675 C190 668 250 678 300 695 M135 700 C190 695 245 702 290 715"/>
<path d="M125 600 C200 585 290 600 330 640 C310 690 290 715 260 720 L140 712 Z"/>
<path d="M110 700 L440 740 M120 770 L445 790"/>
<path d="M600 545 C590 620 600 700 650 780 M650 780 L775 770 M760 330 C790 450 790 650 775 770"/>
<path d="M470 600 C520 560 560 530 590 520"/>
</g>
<rect x="140" y="732" width="135" height="22" fill="#27447f" stroke="#6f8cc8" stroke-width="3"/>
<!-- front wheel -->
<ellipse cx="545" cy="800" rx="92" ry="108" fill="#0d0d0e"/>
<ellipse cx="565" cy="808" rx="45" ry="62" fill="#eea02c"/>
<path d="M165 795 C175 830 210 855 250 858 C290 855 315 835 320 805 Z" fill="#0d0d0e"/>
</svg>
<svg x="205" y="1440" width="230" height="180" viewBox="0 0 1448 1133" overflow="visible">
<!-- exhaust -->
<path d="M560 395 L560 250 C560 235 575 232 578 225 L578 130 C575 110 560 100 545 88 L552 80 C585 95 605 115 605 140 L605 225 C612 235 615 240 615 255 L615 395 Z" fill="#0c0c0c"/>
<!-- cab roof -->
<path d="M640 135 C640 125 650 120 660 120 L1160 118 C1175 118 1180 128 1180 138 L1180 150 L640 152 Z" fill="#fbd590"/>
<!-- cab -->
<path d="M655 150 L1165 148 L1215 440 L1215 560 L650 560 Z" fill="#f4a62f"/>
<!-- windows -->
<path d="M690 190 C690 180 698 175 708 175 L880 180 L885 370 C820 380 790 430 770 480 L745 525 L690 525 Z" fill="#89c9ee" stroke="#8a5a1c" stroke-width="5"/>
<path d="M930 180 L1100 172 C1112 172 1118 180 1120 190 L1138 375 L932 382 Z" fill="#89c9ee" stroke="#8a5a1c" stroke-width="5"/>
<g stroke="#d9f1fb" stroke-width="7" stroke-linecap="round"><path d="M755 210 L835 330M790 215 L845 290M740 255 L790 325M990 210 L1065 345M1030 215 L1085 300M975 255 L1030 335"/></g>
<!-- hood -->
<path d="M125 445 L650 392 L660 395 L740 560 L740 770 L85 770 L85 685 L120 680 Z" fill="#f6b24a"/>
<path d="M125 445 L650 392 L660 395 L665 560 L640 580 L230 580 L215 470 L125 480 Z" fill="#f4a62f"/>
<path d="M125 445 L650 392 L655 410 L125 462 Z" fill="#fbd08a"/>
<g fill="#f9c56e"><path d="M262 495 h38 l45 80 h-38zM330 492 h38 l45 83 h-38zM398 490 h38 l45 85 h-38zM466 488 h38 l45 87 h-38zM534 486 h38 l40 89 h-38z"/></g>
<!-- grille -->
<path d="M120 450 L205 445 L215 600 L125 605 Z" fill="#e9d5b8"/>
<g stroke="#c98f6a" stroke-width="10"><path d="M125 485 H200M125 515 H200M125 548 H200M125 580 H200"/></g>
<!-- front bumper -->
<path d="M85 685 L150 685 L150 750 L85 750 Z" fill="#f7e24a"/>
<path d="M85 750 H720 V775 H85 Z" fill="#0c0c0c"/>
<path d="M745 720 L745 640 C755 560 820 440 940 415 L1160 410 L1215 440 L1215 600 L800 720 Z" fill="#f6b24a"/>
<!-- fender arc red -->
<path d="M745 720 L745 640 C755 560 820 440 940 415 L1160 410 C1200 415 1235 440 1265 460 L1258 490 C1225 470 1195 445 1160 440 L945 445 C850 470 790 560 775 650 L775 720 Z" fill="#ea6a2e"/>
<path d="M650 560 L745 560 L745 760 L650 760Z" fill="#f6b24a"/>
<!-- step -->
<path d="M590 800 H725 V935 H705 V905 H610 V935 H590 Z" fill="#f3e4c8"/>
<path d="M600 835 H715 M600 868 H715" stroke="#d9c19a" stroke-width="8"/>
<!-- rear wheel -->
<polygon points="1368,748 1344,782 1359,820 1328,847 1334,887 1297,906 1293,947 1253,956 1238,995 1197,995 1174,1029 1135,1018 1104,1046 1068,1026 1032,1046 1001,1018 962,1029 939,995 898,995 883,956 843,947 839,906 802,887 808,847 777,820 792,782 768,748 792,714 777,676 808,649 802,609 839,590 843,549 883,540 898,501 939,501 962,467 1001,478 1032,450 1068,470 1104,450 1135,478 1174,467 1197,501 1238,501 1253,540 1293,549 1297,590 1334,609 1328,649 1359,676 1344,714" fill="#0c0c0c"/>
<circle cx="1068" cy="748" r="190" fill="#8d8d8d"/>
<circle cx="1068" cy="748" r="172" fill="#7a7a7a"/>
<circle cx="1068" cy="748" r="158" fill="#8b8b8b"/>
<circle cx="1068" cy="748" r="62" fill="#5e5e5e"/>
<circle cx="1168" cy="789" r="20" fill="#666"/><circle cx="1109" cy="848" r="20" fill="#666"/><circle cx="1027" cy="848" r="20" fill="#666"/><circle cx="968" cy="789" r="20" fill="#666"/><circle cx="968" cy="707" r="20" fill="#666"/><circle cx="1027" cy="648" r="20" fill="#666"/><circle cx="1109" cy="648" r="20" fill="#666"/><circle cx="1168" cy="707" r="20" fill="#666"/>
<!-- front wheel -->
<polygon points="542,830 523,857 534,887 508,908 510,940 479,953 472,984 439,987 423,1016 391,1010 367,1032 338,1017 309,1032 285,1010 253,1016 237,987 204,984 197,953 166,940 168,908 142,887 153,857 134,830 153,803 142,773 168,752 166,720 197,707 204,676 237,673 253,644 285,650 309,628 338,643 367,628 391,650 423,644 439,673 472,676 479,707 510,720 508,752 534,773 523,803" fill="#0c0c0c"/>
<circle cx="338" cy="830" r="130" fill="#8d8d8d"/>
<circle cx="338" cy="830" r="116" fill="#7a7a7a"/>
<circle cx="338" cy="830" r="104" fill="#8b8b8b"/>
<circle cx="338" cy="830" r="42" fill="#5e5e5e"/>
<circle cx="405" cy="858" r="13" fill="#666"/><circle cx="366" cy="897" r="13" fill="#666"/><circle cx="310" cy="897" r="13" fill="#666"/><circle cx="271" cy="858" r="13" fill="#666"/><circle cx="271" cy="802" r="13" fill="#666"/><circle cx="310" cy="763" r="13" fill="#666"/><circle cx="366" cy="763" r="13" fill="#666"/><circle cx="405" cy="802" r="13" fill="#666"/>
</svg><svg x="505" y="1455" width="240" height="180" viewBox="0 0 1448 1086" overflow="visible">
<defs><linearGradient id="busw" x1="0" y1="0" x2="1" y2="1"><stop offset="0" stop-color="#1a222c"/><stop offset=".6" stop-color="#10161d"/><stop offset="1" stop-color="#2c3b48"/></linearGradient></defs>
<!-- wheels under -->
<path d="M400 960 h200 v50 c0 25 -30 35 -100 35 c-70 0 -100 -10 -100 -35z" fill="#0d0d0e"/>
<ellipse cx="1005" cy="990" rx="60" ry="80" fill="#0d0d0e"/>
<path d="M835 930 h90 v70 h-90z" fill="#0d0d0e"/>
<ellipse cx="1300" cy="905" rx="30" ry="75" fill="#0d0d0e"/>
<path d="M1200 900 h70 v80 h-70z" fill="#111"/>
<!-- side body -->
<path d="M945 215 L1010 235 L1360 545 L1368 830 L1350 900 L1100 985 L1010 1005 L960 980 Z" fill="#f3b421"/>
<path d="M945 215 L1010 235 L1360 545 L1358 560 L1005 268 L950 250 Z" fill="#f7cf56"/>
<!-- side windows band -->
<path d="M1000 290 L1360 595 L1362 690 L1000 505 Z" fill="#1a1c20"/>
<g fill="#f3b421"><path d="M1038 322 l12 10 v200 l-12 -6zM1085 362 l11 9 v182 l-11 -6zM1128 398 l10 9 v168 l-10 -5zM1168 432 l9 8 v155 l-9 -5zM1204 463 l9 7 v144 l-9 -5zM1238 492 l8 7 v133 l-8 -4zM1268 518 l8 6 v124 l-8 -4zM1296 542 l7 6 v116 l-7 -4zM1322 563 l7 6 v108 l-7 -4zM1344 582 l6 5 v102 l-6 -3z"/></g>
<!-- black stripes -->
<path d="M995 520 L1365 705 L1365 722 L995 545 Z M995 630 L1365 770 L1365 785 L995 655 Z M1000 760 L1365 830 L1365 842 L1000 780 Z" fill="#1a1c20"/>
<!-- rear wheel arch -->
<path d="M1030 990 C1030 830 1050 740 1075 740 C1100 745 1110 830 1105 985 Z" fill="#16181b"/>
<path d="M1285 905 C1285 820 1295 780 1310 780 C1325 785 1330 830 1328 900 Z" fill="#16181b"/>
<!-- front corner pillar -->
<path d="M905 170 L960 215 L1000 1000 L935 960 Z" fill="#1a1c20"/>
<path d="M960 225 L992 250 L1010 1000 L975 985 Z" fill="#f3b421"/>
<!-- front top cap -->
<path d="M215 260 C225 190 290 130 400 105 C540 75 760 75 850 110 C890 130 905 160 910 200 L915 250 L215 270 Z" fill="#e9ab1f"/>
<path d="M232 255 C245 200 300 150 405 125 C540 98 750 98 835 128 C870 145 885 170 890 205 L895 250 Z" fill="#17191d"/>
<!-- sign -->
<rect x="388" y="120" width="330" height="108" rx="8" fill="#f3b421"/>
<!-- lights -->
<circle cx="270" cy="215" r="26" fill="#8f2f2a"/><circle cx="332" cy="210" r="27" fill="#e08a3c"/>
<circle cx="775" cy="178" r="29" fill="#e58f4a"/><circle cx="848" cy="172" r="27" fill="#a8352e"/>
<!-- windshield -->
<path d="M215 262 L905 240 L925 610 L205 615 Z" fill="url(#busw)"/>
<path d="M520 245 L545 245 L548 612 L522 612 Z" fill="#0c0f13"/>
<path d="M560 360 L650 585 M560 400 V590" stroke="#7c8a95" stroke-width="6" fill="none"/>
<path d="M665 590 V545 C665 530 675 525 690 525 H840" stroke="#8d9aa3" stroke-width="6" fill="none"/>
<path d="M340 470 C345 420 380 410 410 425 L430 480 L470 520 L470 590 L260 590 C265 530 300 490 340 470Z" fill="#0b0e12" opacity=".8"/>
<!-- mirrors -->
<path d="M60 440 C52 380 55 290 75 240 C85 220 105 215 125 215 L200 210 L205 240 L130 245 C118 300 118 380 112 445 C105 462 70 462 60 440 Z" fill="#1d232c"/>
<path d="M82 290 h22 v130 h-22z" fill="#4a5562"/>
<path d="M885 195 C890 165 920 150 945 165 L955 190 C945 250 950 340 940 410 C925 430 900 420 895 400 C880 330 878 250 885 195 Z" fill="#1d232c"/>
<path d="M908 230 h20 v130 h-20z" fill="#3c4652"/>
<!-- dark band below windshield -->
<path d="M205 605 L925 598 L930 650 L195 655 Z" fill="#17191d"/>
<!-- front yellow -->
<path d="M185 650 L925 645 L935 885 L178 885 Z" fill="#f7b81f"/>
<path d="M320 650 v125 M735 650 v125 M185 778 H930" stroke="#d99a18" stroke-width="5" fill="none"/>
<circle cx="278" cy="702" r="27" fill="#d9822a"/><circle cx="782" cy="700" r="29" fill="#d9822a"/>
<path d="M478 712 L515 695 L550 712 L515 705 Z" fill="#7a5a14"/>
<circle cx="240" cy="830" r="30" fill="#3b4650"/><circle cx="240" cy="830" r="20" fill="#c3d0d8"/>
<circle cx="297" cy="830" r="26" fill="#3b4650"/><circle cx="297" cy="830" r="16" fill="#aebcc6"/>
<circle cx="760" cy="835" r="30" fill="#3b4650"/><circle cx="760" cy="835" r="19" fill="#b9c6cf"/>
<circle cx="832" cy="835" r="35" fill="#2b343c"/><circle cx="832" cy="835" r="23" fill="#c9d6de"/>
<!-- bumper -->
<path d="M178 880 L935 880 L940 960 C940 975 925 978 910 978 L195 975 C180 975 172 965 172 950 Z" fill="#131416"/>
<text x="0" y="0" transform="translate(553 205) scale(-1 1)" font-family="'Liberation Sans',sans-serif" font-weight="700" font-size="74" text-anchor="middle" fill="#2a2112" textLength="300" lengthAdjust="spacingAndGlyphs">SCHOOL BUS</text>
</svg>
<svg x="790" y="1060" width="320" height="200" viewBox="0 0 1448 905" overflow="visible">
<!-- wheels -->
<ellipse cx="745" cy="620" rx="100" ry="152" fill="#0a0a0b"/>
<ellipse cx="1200" cy="505" rx="80" ry="125" fill="#0a0a0b"/>
<path d="M180 660 C200 700 240 715 290 708 C320 700 335 685 340 670 Z" fill="#0a0a0b"/>
<!-- body -->
<path d="M95 560 C85 520 95 470 110 430 C120 395 150 375 190 360 L340 305 L365 275 C420 215 480 160 545 130 C620 105 900 95 1120 100 C1160 105 1180 125 1200 160 L1265 250 C1295 280 1305 320 1300 360 L1290 440 C1285 455 1275 462 1262 462 C1255 400 1230 375 1200 378 C1150 385 1120 470 1115 560 L870 630 C865 520 840 455 790 455 C720 460 670 560 650 690 L140 655 C115 650 100 620 95 560 Z" fill="#f0f0f0"/>
<!-- rocker black -->
<path d="M862 585 L1130 515 L1130 555 L865 632 Z" fill="#0a0a0b"/>
<path d="M650 690 C665 580 710 470 790 455 C830 455 860 500 868 600 L868 632 L855 632 C850 540 830 490 795 490 C740 495 700 580 680 700 Z" fill="#0a0a0b"/>
<path d="M1115 560 C1120 470 1150 385 1200 378 C1232 376 1255 400 1262 462 L1250 470 C1245 420 1228 400 1205 402 C1165 410 1140 480 1135 555 Z" fill="#0a0a0b"/>
<!-- windshield -->
<path d="M368 290 C430 225 490 175 545 155 L850 160 C835 200 800 270 770 312 Z" fill="#110f63"/>
<path d="M368 290 L380 275 C440 210 500 160 560 132 L600 125 L545 155 C490 175 430 230 385 292 Z" fill="#0a0a0b"/>
<path d="M860 160 L905 112 L940 112 L880 175 L810 300 L775 312 Z" fill="#0a0a0b"/>
<!-- side windows -->
<path d="M890 250 C905 200 930 160 960 150 L1150 145 C1175 150 1185 175 1182 230 C1175 255 1150 265 1100 275 L985 300 L975 270 C960 250 920 245 890 255 Z" fill="#110f63"/>
<!-- mirror -->
<path d="M868 320 C862 290 872 262 895 255 C930 245 965 252 975 275 L978 300 L895 318 Z" fill="#f6f6f6"/>
<path d="M862 282 C858 300 862 318 872 326 L900 318 L885 315 C876 305 876 285 880 265 Z" fill="#0a0a0b"/>
<path d="M358 285 C355 268 370 252 392 250 L378 272 Z" fill="#f6f6f6"/>
<!-- headlights -->
<path d="M448 498 C455 455 475 430 500 428 L630 418 C645 420 648 432 642 448 C635 475 615 490 585 492 Z" fill="#f6b04a"/>
<path d="M108 440 C110 415 122 400 140 405 C155 415 160 440 155 478 C135 478 115 465 108 440 Z" fill="#f6b04a"/>
<path d="M1270 275 C1290 280 1300 310 1298 350 C1290 360 1280 355 1275 345 Z" fill="#f6b04a"/>
<!-- grille -->
<g fill="#f0f0f0" stroke="#9aa0c0" stroke-width="5">
<rect x="160" y="432" width="24" height="62" rx="12"/><rect x="196" y="434" width="26" height="66" rx="13"/><rect x="234" y="436" width="27" height="70" rx="13"/><rect x="273" y="438" width="28" height="72" rx="14"/><rect x="313" y="440" width="28" height="74" rx="14"/><rect x="353" y="442" width="28" height="74" rx="14"/><rect x="393" y="444" width="30" height="74" rx="14"/>
</g>
<path d="M300 398 C310 392 325 392 335 398 C325 405 310 405 300 398Z" fill="#0a0a0b"/>
<path d="M162 525 L392 540 L392 550 L162 536 Z" fill="#0a0a0b"/>
<path d="M115 625 C130 612 150 612 180 615 L450 630 C475 632 490 645 500 662 L130 645 Z" fill="#0a0a0b"/>
<path d="M508 560 C515 548 530 545 560 545 C585 545 595 555 590 570 C580 595 560 608 535 605 C520 598 508 580 508 560Z" fill="#f6f6f6" stroke="#9aa0c0" stroke-width="4"/>
<!-- detail lines -->
<g stroke="#8a90b8" stroke-width="4" fill="none">
<path d="M245 382 C275 350 310 335 345 322 M500 395 C540 375 580 355 605 342 M650 400 C700 370 760 350 800 345"/>
<path d="M168 415 C260 418 380 425 450 432 M650 465 C680 462 700 465 715 472"/>
<path d="M115 560 C250 580 420 570 470 585 C500 600 520 625 660 640 M120 585 C250 600 400 595 460 610 C500 625 540 640 660 655"/>
<path d="M855 320 C880 400 890 500 880 590 M1050 300 C1065 360 1070 420 1065 470 M1170 270 C1200 300 1215 340 1210 375"/>
<path d="M930 410 L1020 390 M1120 372 L1180 360 M920 530 L1100 480 C1140 470 1160 440 1175 400"/>
</g>
<path d="M1015 345 C1020 335 1045 330 1055 335 C1050 345 1025 350 1015 345Z M1160 318 C1165 308 1185 305 1195 310 C1190 320 1170 323 1160 318Z" fill="#0a0a0b"/>
<circle cx="1252" cy="318" r="13" fill="#f6f6f6" stroke="#8a90b8" stroke-width="4"/>
<ellipse cx="98" cy="540" rx="7" ry="20" fill="#f6f6f6" stroke="#9aa0c0" stroke-width="3"/>
<!-- rims -->
<ellipse cx="778" cy="630" rx="50" ry="92" fill="#110f63"/>
<ellipse cx="1222" cy="520" rx="38" ry="72" fill="#110f63"/>
<g fill="#f3f3f8">
<path d="M770 560 l18 -8 l2 50 l-12 6zM745 640 l-8 30 l22 -20zM800 640 l22 -30 l4 40 l-20 20zM770 690 l14 -22 l12 30 l-16 20z"/><circle cx="775" cy="630" r="9"/>
<path d="M1215 465 l14 -6 l2 38 l-10 5zM1196 525 l-5 24 l16 -16zM1238 525 l16 -22 l3 30 l-14 16zM1216 565 l10 -16 l9 22 l-12 14z"/><circle cx="1220" cy="520" r="7"/>
</g>
</svg>

<defs><g id="car">
<rect x="-6.8" y="-17.3" width="13.6" height="34.6" rx="5.5" fill="#cfcfcf"/>
<rect x="-6" y="-16.8" width="12" height="33.4" rx="5" fill="#f7f7f7"/>
<path d="M-5 -7.5 C-3 -9.5 3 -9.5 5 -7.5 L4.2 -3 H-4.2Z" fill="#222"/>
<rect x="-4.2" y="-3" width="8.4" height="9" fill="#e9e9e9"/>
<rect x="-2.8" y="-1.5" width="5.6" height="6.5" fill="#2a2a2a"/>
<path d="M-4.2 6.5 H4.2 L4.8 9.5 C3 10.8 -3 10.8 -4.8 9.5Z" fill="#222"/>
<rect x="-5.6" y="-6" width="1" height="13" fill="#555"/><rect x="4.6" y="-6" width="1" height="13" fill="#555"/>
</g>
<g id="aup"><path d="M0 7 V-6 M-2.8 -3.2 L0 -6.8 L2.8 -3.2" stroke="#f3f3f3" stroke-width="1.5" fill="none"/></g>
</defs>
<g filter="url(#ss)"><rect x="1136" y="767" width="128" height="128" rx="27" fill="#fff"/></g>
<rect x="1139.5" y="770.5" width="121" height="121" rx="24" fill="none" stroke="#0a0a0a" stroke-width="3.8"/>
<text x="1158.5" y="868.6" font-family="'Liberation Serif',serif" font-size="71.5" fill="#0a0a0a" letter-spacing="-15.5">XX</text>
<g transform="translate(1200 796.5) scale(1 .88)" fill="#0a0a0a">
<path d="M0 -6 C-2 -10 -6 -9 -7 -5 C-9 -8 -11 -12 -10.5 -15.5 C-14 -12 -15.5 -6 -13 -1 C-11.5 3 -8 5.5 -5 6 L-7 10 L-10.5 11 L-7.5 13 L-3.5 12.5 L-2 9.5 L0 11 L2 9.5 L3.5 12.5 L7.5 13 L10.5 11 L7 10 L5 6 C8 5.5 11.5 3 13 -1 C15.5 -6 14 -12 10.5 -15.5 C11 -12 9 -8 7 -5 C6 -9 2 -10 0 -6Z"/>
<circle cx="0" cy="-9.5" r="2.6"/><path d="M-1.2 -12 L0 -15 L1.2 -12Z"/>
<path d="M-2 14 L0 17.5 L2 14Z"/>
</g>
<g filter="url(#ss)"><rect x="1281.3" y="760.6" width="117.4" height="137" rx="9" fill="#f3efa5"/></g>
<rect x="1284.3" y="763.6" width="111.4" height="131" rx="6.5" fill="#3d3df3"/>
<rect x="1284.3" y="838.6" width="111.4" height="1.7" fill="#f3efa5"/>
<circle cx="1340" cy="798.5" r="36.3" fill="#e6c85e"/>
<circle cx="1340" cy="798.5" r="31.5" fill="#93d9e6"/>
<circle cx="1340" cy="798.5" r="33.9" fill="none" stroke="#b8862d" stroke-width="1.6" stroke-dasharray="1.6 1.6"/>
<path d="M1348.0 800.5 L1370.5 798.5M1346.9 804.5 L1366.4 813.8M1344.0 807.4 L1355.2 824.9M1340.0 808.5 L1340.0 829.0M1336.0 807.4 L1324.8 824.9M1333.1 804.5 L1313.6 813.8M1332.0 800.5 L1309.5 798.5M1333.1 796.5 L1313.6 783.2M1336.0 793.6 L1324.8 772.1M1340.0 792.5 L1340.0 768.0M1344.0 793.6 L1355.2 772.1M1346.9 796.5 L1366.4 783.2" stroke="#cfe9c9" stroke-width=".9" fill="none"/>
<path d="M1309.5 809.5 C1305.5 797.5 1307.5 785.5 1313.5 777.5 M1370.5 809.5 C1374.5 797.5 1372.5 785.5 1366.5 777.5" stroke="#e87a2a" stroke-width="3" fill="none"/>
<g transform="translate(1340 798.5)">
<path d="M-1.2 -26 L0 -30 L1.2 -26 L2.2 -20 H-2.2Z" fill="#d9a62b"/>
<circle cx="0" cy="-17" r="3.6" fill="#2f9c7a"/>
<path d="M-7 -12 C-4 -14 4 -14 7 -12 L9 -3 L5 0 L5 6 H-5 L-5 0 L-9 -3Z" fill="#2f9c7a"/>
<path d="M-4 -12 H4 L2 -4 H-2Z" fill="#d9462e"/>
<path d="M-9 -3 L-13 -8 L-11 -10 L-6 -6Z M9 -3 L13 -8 L11 -10 L6 -6Z" fill="#2f9c7a"/>
<path d="M-12 12 C-9 4 9 4 12 12 L8 15 H-8Z" fill="#e0892c"/>
<path d="M-14 16 H14 L11 20 H-11Z" fill="#d8b23a"/>
<path d="M-5 6 H5 L7 12 H-7Z" fill="#c43a2a"/>
</g>
<path id="drr" d="M1313.5 813.5 A28.6 28.6 0 0 0 1366.5 813.5" fill="none"/>
<text font-family="'Liberation Sans',sans-serif" font-size="3.6" font-weight="700" fill="#7b4a1a" letter-spacing=".5"><textPath href="#drr" startOffset="50%" text-anchor="middle">DEPARTMENT OF RURAL ROADS</textPath></text>
<text x="1331.5" y="818" font-family="'Liberation Serif',serif" font-size="15.6" text-anchor="middle" fill="#fff">XX.XXXX</text>
<text x="1339.5" y="869" font-size="43" font-weight="500" fill="#fff" text-anchor="middle" textLength="102" lengthAdjust="spacingAndGlyphs">ทางหลวงชนบท</text>
<circle cx="1353" cy="94" r="55.5" fill="#f9dfe0"/>
<circle cx="1353" cy="94" r="54" fill="#f7e466" stroke="#a3312c" stroke-width="2"/>
<circle cx="1353" cy="94" r="41.5" fill="#f2a61c"/>
<circle cx="1353" cy="94" r="36" fill="#f8e37a" stroke="#a3312c" stroke-width="1.2"/>
<circle cx="1353" cy="94" r="33" fill="none" stroke="#f2a61c" stroke-width="3.4" stroke-dasharray="4.2 1.5"/>
<circle cx="1353" cy="94" r="29.6" fill="#f8b71c" stroke="#a3312c" stroke-width="1.2"/>
<g transform="translate(1353 94)" stroke="#a3312c" stroke-width=".9" fill="#f9e27c">
<path d="M-20 -17 H20 L18.5 -3 H-18.5Z"/>
<path d="M-8 -17 H8 V-4 H-8Z" fill="#fbeea0"/>
<path d="M-20 -17 V-21 M-8 -17 V-22 M8 -17 V-22 M20 -17 V-21 M-14 -17 V-9 M14 -17 V-9" fill="none"/>
<path d="M-16 -12 h5 v4 h-5z M11 -12 h5 v4 h-5z" fill="none" stroke-width=".6"/>
<path d="M-4.5 -17 L0 -27 L4.5 -17Z" fill="#f8b71c"/>
<path d="M-2.2 -22 H2.2 M-3.2 -19.5 H3.2" fill="none" stroke-width=".7"/>
<path d="M-18.5 -3 L-14 8 H14 L18.5 -3Z" fill="#f0ad3a" stroke-width=".6"/>
<path d="M-16 -3 L-12.5 8 M-13 -3 L-10.5 8 M-10 -3 L-8.5 8 M-7 -3 L-6.5 6 M16 -3 L12.5 8 M13 -3 L10.5 8 M10 -3 L8.5 8 M7 -3 L6.5 6 M-17 0 H17 M-15.5 3.5 H15.5" fill="none" stroke-width=".5" opacity=".7"/>
<path d="M-13 13 L-1.5 -3.5 L0 -1.5 L1.5 -3.5 L13 13 C8 19 -8 19 -13 13Z" fill="#f8b71c" stroke="#e9a015" stroke-width=".8"/>
<path d="M-24.5 1 A25 25 0 0 0 24.5 1" fill="none" stroke="#fff" stroke-width="3.6"/>
<path d="M-24.5 1 A25 25 0 0 0 24.5 1" fill="none" stroke="#a3312c" stroke-width="3.6" stroke-dasharray="4 6.5" opacity=".85"/>
</g>
<path transform="translate(1318.9 59.9) rotate(45)" d="M-2.3 -2.3 H2.3 V2.3 H-2.3Z" fill="#a3312c"/><circle cx="1318.9" cy="59.9" r=".8" fill="#f7e466"/><path transform="translate(1387.1 59.9) rotate(45)" d="M-2.3 -2.3 H2.3 V2.3 H-2.3Z" fill="#a3312c"/><circle cx="1387.1" cy="59.9" r=".8" fill="#f7e466"/><path transform="translate(1304.8 94.0) rotate(45)" d="M-2.3 -2.3 H2.3 V2.3 H-2.3Z" fill="#a3312c"/><circle cx="1304.8" cy="94.0" r=".8" fill="#f7e466"/><path transform="translate(1401.2 94.0) rotate(45)" d="M-2.3 -2.3 H2.3 V2.3 H-2.3Z" fill="#a3312c"/><circle cx="1401.2" cy="94.0" r=".8" fill="#f7e466"/><path transform="translate(1318.9 128.1) rotate(45)" d="M-2.3 -2.3 H2.3 V2.3 H-2.3Z" fill="#a3312c"/><circle cx="1318.9" cy="128.1" r=".8" fill="#f7e466"/><path transform="translate(1387.1 128.1) rotate(45)" d="M-2.3 -2.3 H2.3 V2.3 H-2.3Z" fill="#a3312c"/><circle cx="1387.1" cy="128.1" r=".8" fill="#f7e466"/><path transform="translate(1353.0 142.2) rotate(45)" d="M-2.3 -2.3 H2.3 V2.3 H-2.3Z" fill="#a3312c"/><circle cx="1353.0" cy="142.2" r=".8" fill="#f7e466"/>
<path id="dohArc" d="M1316.5 68.5 A44.5 44.5 0 0 1 1389.5 68.5" fill="none"/>
<text font-size="10.6" font-weight="600" fill="#a3312c" font-family="'Sarabun','Kanit','Liberation Serif',serif"><textPath href="#dohArc" startOffset="50%" text-anchor="middle">กรมทางหลวง</textPath></text>
<rect x="1185.2" y="1129.6" width="75.4" height="217.4" fill="#4b4b4b"/><rect x="1265" y="1129.6" width="76.7" height="217.4" fill="#4b4b4b"/>
<rect x="1187.4" y="1129.6" width="2" height="217.4" fill="#d7b64a"/>
<rect x="1257.1" y="1129.6" width="2" height="217.4" fill="#d7b64a"/>
<rect x="1267" y="1129.6" width="2" height="217.4" fill="#d7b64a"/>
<rect x="1338.2" y="1129.6" width="2" height="217.4" fill="#d7b64a"/>
<path d="M1211.1 1129.6 V1347" stroke="#eee" stroke-width=".9" stroke-dasharray="2.2 1.6" fill="none"/>
<path d="M1233.4 1129.6 V1347" stroke="#eee" stroke-width=".9" stroke-dasharray="2.2 1.6" fill="none"/>
<path d="M1290.8 1129.6 V1347" stroke="#eee" stroke-width=".9" stroke-dasharray="2.2 1.6" fill="none"/>
<path d="M1313.7 1129.6 V1347" stroke="#eee" stroke-width=".9" stroke-dasharray="2.2 1.6" fill="none"/>
<use href="#aup" x="1199.5" y="1152.4"/><use href="#aup" x="1199.5" y="1328.6"/>
<use href="#aup" x="1222.3" y="1152.4"/><use href="#aup" x="1222.3" y="1328.6"/>
<use href="#aup" x="1245.3" y="1152.4"/><use href="#aup" x="1245.3" y="1328.6"/>
<use href="#aup" transform="translate(1279.1 1152.4) rotate(180)"/><use href="#aup" transform="translate(1279.1 1328.6) rotate(180)"/>
<use href="#aup" transform="translate(1302.1 1152.4) rotate(180)"/><use href="#aup" transform="translate(1302.1 1328.6) rotate(180)"/>
<use href="#aup" transform="translate(1326.1 1152.4) rotate(180)"/><use href="#aup" transform="translate(1326.1 1328.6) rotate(180)"/>
<rect x="1151.8" y="1155.5" width="223.8" height="169.4" fill="#ffcd3c" opacity=".34"/>
<use href="#car" x="1245.8" y="1202.5"/>
<use href="#car" x="1199.5" y="1227"/>
<use href="#car" x="1221.8" y="1258"/>
<use href="#car" transform="translate(1324.9 1233.4) rotate(180)"/>
<use href="#car" transform="translate(1280.4 1292.8) rotate(180)"/>
<rect x="1176.5" y="1582.7" width="165.2" height="184.7" fill="#4b4b4b"/>
<rect x="1179.5" y="1582.7" width="1.4" height="184.7" fill="#c9b06a"/>
<rect x="1182.7" y="1582.7" width="1.4" height="184.7" fill="#c9b06a"/>
<rect x="1333.5" y="1582.7" width="1.4" height="184.7" fill="#c9b06a"/>
<rect x="1336.7" y="1582.7" width="1.4" height="184.7" fill="#c9b06a"/>
<path d="M1205.7 1582.7 V1767.4" stroke="#eee" stroke-width=".9" stroke-dasharray="2.2 1.6" fill="none"/>
<path d="M1229 1582.7 V1767.4" stroke="#eee" stroke-width=".9" stroke-dasharray="2.2 1.6" fill="none"/>
<path d="M1287.8 1582.7 V1767.4" stroke="#eee" stroke-width=".9" stroke-dasharray="2.2 1.6" fill="none"/>
<path d="M1311.3 1582.7 V1767.4" stroke="#eee" stroke-width=".9" stroke-dasharray="2.2 1.6" fill="none"/>
<use href="#aup" x="1193.8" y="1684.5"/>
<use href="#aup" x="1217.3" y="1684.5"/>
<use href="#aup" x="1240.8" y="1684.5"/>
<use href="#aup" transform="translate(1275.9 1684.5) rotate(180)"/>
<use href="#aup" transform="translate(1299.4 1684.5) rotate(180)"/>
<use href="#aup" transform="translate(1322.4 1684.5) rotate(180)"/>
<use href="#car" x="1240.8" y="1624.7"/>
<use href="#car" x="1194.3" y="1649.4"/>
<use href="#car" x="1217.3" y="1734"/>
<use href="#car" transform="translate(1322.4 1656) rotate(180)"/>
<use href="#car" transform="translate(1276.7 1716.2) rotate(180)"/>
<path d="M1258.6 1550 V1801 M1245 1564 L1258.6 1550 L1272.2 1564 M1245 1787 L1258.6 1801 L1272.2 1787" stroke="#f2c12e" stroke-width="7.5" fill="none" stroke-linecap="round" stroke-linejoin="round"/>
<g filter="url(#ts)">
<text x="54" y="113.5" font-size="88" font-weight="500" fill="#0a0a0a" text-anchor="start" >กฎกระทรวง</text>
<text x="54.7" y="215.5" font-size="93.3" font-weight="600" fill="#0a0a0a" text-anchor="start" >กำหนด</text>
<text x="364.7" y="215.5" font-size="94" font-weight="600" fill="#f6a21e" text-anchor="start" >“ความเร็ว”</text>
<text x="813.7" y="215.5" font-size="93.3" font-weight="600" fill="#0a0a0a" text-anchor="start" >ฉบับใหม่</text>
</g>
<g filter="url(#ts)">
<text x="56.5" y="267.5" font-size="34.2" font-weight="500" fill="#111" text-anchor="start" >ทางหลวงแผ่นดินหรือทางหลวงชนบท</text>
<text x="1291.5" y="77.5" font-size="26.7" font-weight="600" fill="#111" text-anchor="end" >สำนักอำนวยความปลอดภัย</text>
<text x="1291.5" y="109" font-size="26.7" font-weight="600" fill="#111" text-anchor="end" >กรมทางหลวง</text>
</g>
<text transform="translate(319 600) scale(1 1.04)" font-size="21" font-weight="600" fill="#111" text-anchor="middle" >ไม่เกิน</text>
<text transform="translate(319.4 634) scale(1 1.1)" font-size="29.5" font-weight="600" fill="#111" text-anchor="middle" >80 กม./ชม.</text>
<text x="318.5" y="662.6" font-size="20.8" font-weight="600" fill="#111" text-anchor="middle" >รถจักรยานยนต์</text>
<text x="319" y="689.2" font-size="14.4" font-weight="300" fill="#484848" text-anchor="middle" word-spacing="1.5">รถจักรยานยนต์*</text>
<text x="319" y="707.2" font-size="14.4" font-weight="300" fill="#484848" text-anchor="middle" word-spacing="1.5">ขนาด 400 cc ขึ้นไป</text>
<text x="319" y="723.6" font-size="14.4" font-weight="300" fill="#484848" text-anchor="middle" word-spacing="1.5">ความเร็วไม่เกิน 110 กม./ชม.</text>
<text transform="translate(633.8 587) scale(1 1.04)" font-size="21" font-weight="600" fill="#111" text-anchor="middle" >ไม่เกิน</text>
<text transform="translate(633.5 621) scale(1 1.1)" font-size="29" font-weight="600" fill="#111" text-anchor="middle" >100 กม./ชม.</text>
<text x="557" y="648.5" font-size="20" font-weight="600" fill="#111" text-anchor="start" >รถโดยสารไม่เกิน</text>
<text x="557" y="673.2" font-size="20" font-weight="600" fill="#111" text-anchor="start" >15 คน</text>
<text transform="translate(325 1026.4) scale(1 1.04)" font-size="21" font-weight="600" fill="#111" text-anchor="middle" >ไม่เกิน</text>
<text transform="translate(325 1059.5) scale(1 1.1)" font-size="29" font-weight="600" fill="#111" text-anchor="middle" >65 กม./ชม.</text>
<text x="260.8" y="1095.3999999999999" font-size="18.9" font-weight="600" fill="#111" text-anchor="start" >รถลากจูง</text>
<text x="260.8" y="1120.1999999999998" font-size="18.9" font-weight="600" fill="#111" text-anchor="start" >รถยนต์สี่ล้อเล็ก</text>
<text x="260.8" y="1145.1" font-size="18.9" font-weight="600" fill="#111" text-anchor="start" >รถยนต์สามล้อ</text>
<text transform="translate(624.5 1014) scale(1 1.04)" font-size="21" font-weight="600" fill="#111" text-anchor="middle" >ไม่เกิน</text>
<text transform="translate(625.5 1049) scale(1 1.1)" font-size="29.5" font-weight="600" fill="#111" text-anchor="middle" >90 กม./ชม.</text>
<text x="559" y="1078.6" font-size="22.3" font-weight="600" fill="#111" text-anchor="start" >รถบรรทุก</text>
<text x="561" y="1102.4" font-size="14.4" font-weight="300" fill="#333" text-anchor="start" >2200 kg.</text>
<text x="561" y="1120.2" font-size="14.4" font-weight="300" fill="#333" text-anchor="start" >รถโดยสารเกิน 15 คน</text>
<text transform="translate(317 1796) scale(1 1.04)" font-size="21" font-weight="600" fill="#111" text-anchor="middle" >ไม่เกิน</text>
<text transform="translate(316.3 1834) scale(1 1.1)" font-size="30" font-weight="600" fill="#111" text-anchor="middle" >45 กม./ชม.</text>
<text x="238" y="1858.6" font-size="17.7" font-weight="600" fill="#111" text-anchor="start" >รถแทรกเตอร์</text>
<text x="238" y="1880.1999999999998" font-size="17.7" font-weight="600" fill="#111" text-anchor="start" >รถบดถนน</text>
<text x="238" y="1900.6" font-size="17.7" font-weight="600" fill="#111" text-anchor="start" >รถใช้งานเกษตรกรรม</text>
<text transform="translate(616.8 1794.7) scale(1 1.04)" font-size="21" font-weight="600" fill="#111" text-anchor="middle" >ไม่เกิน</text>
<text transform="translate(616 1830.7) scale(1 1.1)" font-size="29.5" font-weight="600" fill="#111" text-anchor="middle" >80 กม./ชม.</text>
<text x="557" y="1880.2" font-size="21.2" font-weight="600" fill="#111" text-anchor="start" >รถโรงเรียน</text>
<text x="954" y="790" font-size="19.5" font-weight="600" fill="#111" text-anchor="middle" >ไม่เกิน</text>
<text transform="translate(955.5 890.2) scale(1 1.06)" font-size="120" font-weight="500" fill="#0a0a0a" text-anchor="middle" >120</text>
<text x="951" y="922.6" font-size="23.7" font-weight="600" fill="#111" text-anchor="middle" >รถยนต์</text>
<text x="953.5" y="1391" font-size="20" font-weight="500" fill="#fff" text-anchor="middle" >ไม่ต่ำกว่า</text>
<text transform="translate(953.8 1490.2) scale(1 1.18)" font-size="101.5" font-weight="500" fill="#f6f2f2" text-anchor="middle" >100</text>
<text x="950" y="1514.7" font-size="15.3" font-weight="400" fill="#fff" text-anchor="middle" >ช่องทางเดินรถ</text>
<text x="949" y="1533" font-size="15.4" font-weight="400" fill="#fff" text-anchor="middle" >ช่องขวาสุด</text>
<text x="1148" y="657" font-size="25" font-weight="600" fill="#1c1c1c" text-anchor="start" text-decoration="underline">ถนนที่บังคับใช้</text>
<g filter="url(#ts2)" fill="#fff">
<text x="1198" y="745" font-size="18" font-weight="400" fill="#fff" text-anchor="middle" >กรมทางหลวง</text>
<text x="1339.3" y="745" font-size="18" font-weight="400" fill="#fff" text-anchor="middle" >กรมทางหลวงชนบท</text>
<text x="1268" y="934.3" font-size="18" font-weight="400" fill="#fff" text-anchor="middle" >ทางหลวงแผ่นดินหรือทางหลวงชนบท</text>
<text x="1268.7" y="956" font-size="18" font-weight="400" fill="#fff" text-anchor="middle" >ตามที่ผู้อำนวยการทางหลวงประกาศ</text>
</g>
<text x="1134.5" y="1072.7" font-size="20.6" font-weight="400" fill="#2c2c2c" text-anchor="start" >1.</text>
<text x="1158" y="1072.7" font-size="20.6" font-weight="400" fill="#2c2c2c" text-anchor="start" >ช่องเดินรถในทิศทางเดียวกัน</text>
<text x="1158.7" y="1101" font-size="20.6" font-weight="400" fill="#2c2c2c" text-anchor="start" >ตั้งแต่ 2 ช่องเดินรถขึ้นไป</text>
<text x="1134.5" y="1498.6" font-size="20.7" font-weight="400" fill="#2c2c2c" text-anchor="start" >2.</text>
<text x="1159" y="1498.6" font-size="20.7" font-weight="400" fill="#2c2c2c" text-anchor="start" >มีเกาะกลางถนนแบบกำแพง</text>
<text x="1134.5" y="1533.7" font-size="20.7" font-weight="400" fill="#2c2c2c" text-anchor="start" >3.</text>
<text x="1162" y="1533.7" font-size="20.7" font-weight="400" fill="#2c2c2c" text-anchor="start" >ไม่มีจุดกลับรถเสมอระดับถนน</text>
</svg>
</div>
</body></html>
